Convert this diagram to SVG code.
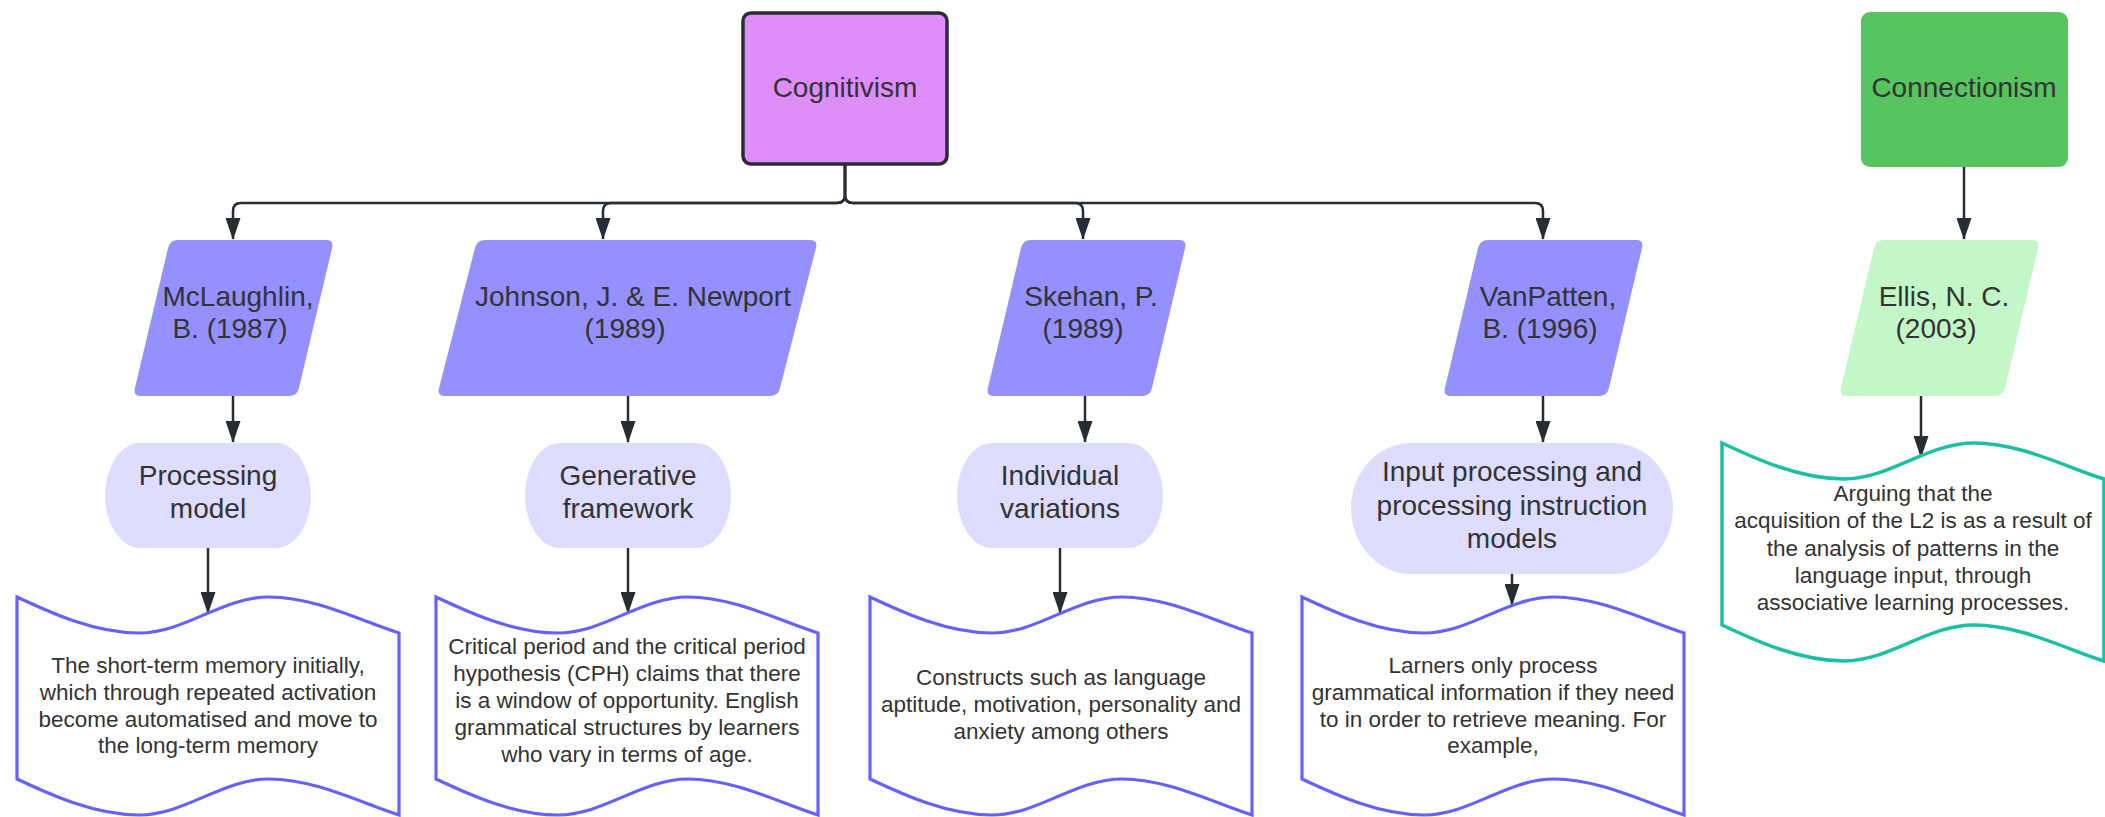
<svg xmlns="http://www.w3.org/2000/svg" width="2105" height="817" viewBox="0 0 2105 817">
<style>
  text { font-family: "Liberation Sans", Arial, sans-serif; fill: #333333; text-anchor: middle; }
  .t28 { font-size: 28px; }
  .t22 { font-size: 22.5px; }
  .conn { fill: none; stroke: #282C33; stroke-width: 2.5; marker-end: url(#arrow); }
  .para { fill: #9490FF; }
  .pill { fill: #DEDDFF; }
  .tape { fill: #FFFFFF; stroke: #6461FF; stroke-width: 3.2; }
  .tape-teal { fill: #FFFFFF; stroke: #1AC0A4; stroke-width: 3.5; }
</style>
<defs>
  <marker id="arrow" markerUnits="userSpaceOnUse" viewBox="0 0 22 15" refX="21" refY="7.5" markerWidth="22" markerHeight="15" orient="auto">
    <path d="M0,0 L22,7.5 L0,15 Z" fill="#282C33"/>
  </marker>
  <path id="tapeShape" d="M0,0 C30,14 76,36 122,36 C168,36 205,0 252,0 C298,0 344,24 382,36 L382,218 C344,206 298,182 252,182 C205,182 168,218 122,218 C76,218 30,196 0,182 Z"/>
</defs>
<rect width="2105" height="817" fill="#FFFFFF"/>

<g id="connectors">
  <path class="conn" d="M845,164 V195 Q845,203 837,203 H241 Q233,203 233,211 V239"/>
  <path class="conn" d="M845,164 V195 Q845,203 837,203 H611 Q603,203 603,211 V239"/>
  <path class="conn" d="M845,164 V195 Q845,203 853,203 H1075 Q1083,203 1083,211 V239"/>
  <path class="conn" d="M845,164 V195 Q845,203 853,203 H1535 Q1543,203 1543,211 V239"/>
  <path class="conn" d="M1964,167 V239"/>
  <path class="conn" d="M233,396 V442"/>
  <path class="conn" d="M628,396 V442"/>
  <path class="conn" d="M1085,396 V442"/>
  <path class="conn" d="M1543,396 V442"/>
  <path class="conn" d="M1921,396 V457"/>
  <path class="conn" d="M208,548 V613"/>
  <path class="conn" d="M628,548 V613"/>
  <path class="conn" d="M1060,548 V613"/>
  <path class="conn" d="M1512,574 V605"/>
</g>

<g id="cognitivism">
  <rect x="743" y="13" width="204" height="151" rx="8" fill="#E08DFC" stroke="#282C33" stroke-width="3.5"/>
  <text class="t28" x="845" y="97">Cognitivism</text>
</g>

<g id="connectionism">
  <rect x="1861" y="12" width="207" height="155" rx="9" fill="#57C45F"/>
  <text class="t28" x="1964" y="97">Connectionism</text>
</g>

<g id="mclaughlin">
  <path class="para" d="M178,240 H326 Q334,240 332.1,247.8 L298.9,388.2 Q297,396 289,396 H141 Q133,396 134.9,388.2 L168.1,247.8 Q170,240 178,240 Z"/>
  <text class="t28" x="238" y="306">McLaughlin,</text>
  <text class="t28" x="230" y="338">B. (1987)</text>
</g>

<g id="johnson">
  <path class="para" d="M485,240 H810 Q818,240 816,247.75 L780,388.25 Q778,396 770,396 H445 Q437,396 439,388.25 L475,247.75 Q477,240 485,240 Z"/>
  <text class="t28" x="633" y="306">Johnson, J. &amp; E. Newport</text>
  <text class="t28" x="625" y="338">(1989)</text>
</g>

<g id="skehan">
  <path class="para" d="M1031,240 H1179 Q1187,240 1185.1,247.8 L1151.9,388.2 Q1150,396 1142,396 H994 Q986,396 987.9,388.2 L1021.1,247.8 Q1023,240 1031,240 Z"/>
  <text class="t28" x="1091" y="306">Skehan, P.</text>
  <text class="t28" x="1083" y="338">(1989)</text>
</g>

<g id="vanpatten">
  <path class="para" d="M1488,240 H1636 Q1644,240 1642.1,247.8 L1608.9,388.2 Q1607,396 1599,396 H1451 Q1443,396 1444.9,388.2 L1478.1,247.8 Q1480,240 1488,240 Z"/>
  <text class="t28" x="1548" y="306">VanPatten,</text>
  <text class="t28" x="1540" y="338">B. (1996)</text>
</g>

<g id="ellis">
  <path d="M1884,240 H2032 Q2040,240 2038.1,247.8 L2004.9,388.2 Q2003,396 1995,396 H1847 Q1839,396 1840.9,388.2 L1874.1,247.8 Q1876,240 1884,240 Z" fill="#C3F7C8"/>
  <text class="t28" x="1944" y="306">Ellis, N. C.</text>
  <text class="t28" x="1936" y="338">(2003)</text>
</g>

<g id="processing-model">
  <rect class="pill" x="105" y="443" width="206" height="105" rx="35" ry="52.5"/>
  <text class="t28" x="208" y="485">Processing</text>
  <text class="t28" x="208" y="518">model</text>
</g>

<g id="generative-framework">
  <rect class="pill" x="525" y="443" width="206" height="105" rx="35" ry="52.5"/>
  <text class="t28" x="628" y="485">Generative</text>
  <text class="t28" x="628" y="518">framework</text>
</g>

<g id="individual-variations">
  <rect class="pill" x="957" y="443" width="206" height="105" rx="35" ry="52.5"/>
  <text class="t28" x="1060" y="485">Individual</text>
  <text class="t28" x="1060" y="518">variations</text>
</g>

<g id="input-processing">
  <rect class="pill" x="1351" y="443" width="322" height="131" rx="60" ry="65.5"/>
  <text class="t28" x="1512" y="481">Input processing and</text>
  <text class="t28" x="1512" y="514.5">processing instruction</text>
  <text class="t28" x="1512" y="548">models</text>
</g>

<g id="doc-processing">
  <use href="#tapeShape" class="tape" x="17" y="597"/>
  <text class="t22" x="208" y="673">The short-term memory initially,</text>
  <text class="t22" x="208" y="700">which through repeated activation</text>
  <text class="t22" x="208" y="727">become automatised and move to</text>
  <text class="t22" x="208" y="753">the long-term memory</text>
</g>

<g id="doc-generative">
  <use href="#tapeShape" class="tape" x="436" y="597"/>
  <text class="t22" x="627" y="654">Critical period and the critical period</text>
  <text class="t22" x="627" y="681">hypothesis (CPH) claims that there</text>
  <text class="t22" x="627" y="708">is a window of opportunity. English</text>
  <text class="t22" x="627" y="735">grammatical structures by learners</text>
  <text class="t22" x="627" y="762">who vary in terms of age.</text>
</g>

<g id="doc-individual">
  <use href="#tapeShape" class="tape" x="870" y="597"/>
  <text class="t22" x="1061" y="685">Constructs such as language</text>
  <text class="t22" x="1061" y="712">aptitude, motivation, personality and</text>
  <text class="t22" x="1061" y="739">anxiety among others</text>
</g>

<g id="doc-input">
  <use href="#tapeShape" class="tape" x="1302" y="597"/>
  <text class="t22" x="1493" y="673">Larners only process</text>
  <text class="t22" x="1493" y="700">grammatical information if they need</text>
  <text class="t22" x="1493" y="727">to in order to retrieve meaning. For</text>
  <text class="t22" x="1493" y="753">example,</text>
</g>

<g id="doc-ellis">
  <use href="#tapeShape" class="tape-teal" x="1722" y="443"/>
  <text class="t22" x="1913" y="501">Arguing that the</text>
  <text class="t22" x="1913" y="528">acquisition of the L2 is as a result of</text>
  <text class="t22" x="1913" y="556">the analysis of patterns in the</text>
  <text class="t22" x="1913" y="583">language input, through</text>
  <text class="t22" x="1913" y="610">associative learning processes.</text>
</g>
</svg>
